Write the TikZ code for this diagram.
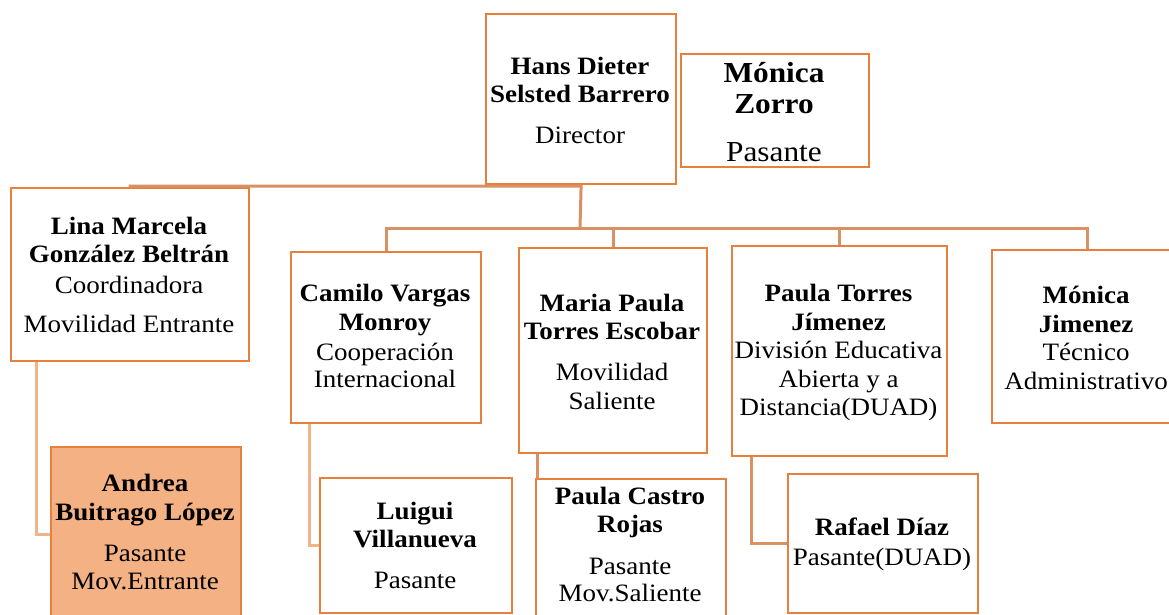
\documentclass[tikz,border=0pt]{standalone}
\usepackage{fontspec}
\setmainfont{Liberation Serif}[FakeStretch=1.08]
\usetikzlibrary{calc}
\definecolor{bord}{HTML}{E8803D}
\definecolor{conn}{HTML}{D99062}
\definecolor{connl}{HTML}{F0B48A}
\definecolor{fillA}{HTML}{F4B183}
\tikzset{
  orgbox/.style={draw=bord, line width=2.2pt, fill=white, inner sep=0pt, anchor=north west},
  txt/.style={align=center, inner sep=0pt, font=\fontsize{25}{28.5}\selectfont},
  bigtxt/.style={align=center, inner sep=0pt, font=\fontsize{29}{31}\selectfont},
  link/.style={draw=conn, line width=3pt},
  linkl/.style={draw=connl, line width=3pt},
}
\begin{document}
\begin{tikzpicture}[x=1pt,y=-1pt]
\fill[white] (0,0) rectangle (1169,614);
\useasboundingbox (0,0) rectangle (1169,614);

% boxes
\node[orgbox, minimum width=190pt, minimum height=170pt] (dir) at (485,13) {};
\node[orgbox, minimum width=188pt, minimum height=113pt] (zor) at (680,53) {};
\node[orgbox, minimum width=238pt, minimum height=173pt] (lina) at (10,187) {};
\node[orgbox, minimum width=190pt, minimum height=171pt] (cam) at (290,251) {};
\node[orgbox, minimum width=188pt, minimum height=205pt] (mp) at (518,247) {};
\node[orgbox, minimum width=215pt, minimum height=210pt] (pt) at (731,245) {};
\node[orgbox, minimum width=190pt, minimum height=173pt] (mj) at (991,249) {};
\node[orgbox, fill=fillA, minimum width=190pt, minimum height=174pt] (and) at (50,446) {};
\node[orgbox, minimum width=192pt, minimum height=135pt] (lui) at (319,477) {};
\node[orgbox, minimum width=190pt, minimum height=140pt] (cas) at (535,478) {};
\node[orgbox, minimum width=190pt, minimum height=139pt] (raf) at (787,473) {};

% connectors
\coordinate (bus) at (580,228);
\draw[link] ([xshift=120pt]lina.north west) |- ([yshift=-1pt]dir.south) -- (bus);
\draw[link] (cam.north) |- (bus) -| (mj.north);
\draw[link] (bus -| mp.north) -- (mp.north);
\draw[link] (bus -| pt.north) -- (pt.north);
\draw[linkl] ([xshift=26pt]lina.south west) |- (and.west);
\draw[linkl] ([xshift=19pt]cam.south west) |- (lui.west);
\draw[link] ([xshift=19pt]mp.south west) -- ([xshift=19pt]mp.south west |- cas.north);
\draw[link] ([xshift=20pt]pt.south west) |- (raf.west);

% texts
\node[txt] (dirt) at (580,100) {\bfseries Hans Dieter\\\bfseries Selsted Barrero\\[12pt]Director};
\node[bigtxt] (zort) at (774,112) {\bfseries Mónica\\\bfseries Zorro\\[17pt]Pasante};
\node[txt] (linat) at (129,275) {\bfseries Lina Marcela\\\bfseries González Beltrán\\[2.5pt]Coordinadora\\[10.5pt]Movilidad Entrante};
\node[txt] (camt) at (385,336) {\bfseries Camilo Vargas\\\bfseries Monroy\\[1.5pt]Cooperación\\[-1.5pt]Internacional};
\node[txt] (mpt) at (612,351.5) {\bfseries Maria Paula\\\bfseries Torres Escobar\\[12.5pt]Movilidad\\Saliente};
\node[txt] (ptt) at (838.5,352.5) {\bfseries Paula Torres\\\bfseries Jímenez\\División Educativa\\Abierta y a\\Distancia(DUAD)};
\node[txt] (mjt) at (1086,338) {\bfseries Mónica\\\bfseries Jimenez\\Técnico\\Administrativo};
\node[txt] (andt) at (145,532) {\bfseries Andrea\\\bfseries Buitrago López\\[12.5pt]Pasante\\Mov.Entrante};
\node[txt] (luit) at (415,545.5) {\bfseries Luigui\\\bfseries Villanueva\\[12.5pt]Pasante};
\node[txt] (cast) at (630,544.5) {\bfseries Paula Castro\\\bfseries Rojas\\[13.5pt]Pasante\\[-1.5pt]Mov.Saliente};
\node[txt] (raft) at (882,544) {\bfseries Rafael Díaz\\[1.5pt]Pasante(DUAD)};
\end{tikzpicture}
\end{document}
